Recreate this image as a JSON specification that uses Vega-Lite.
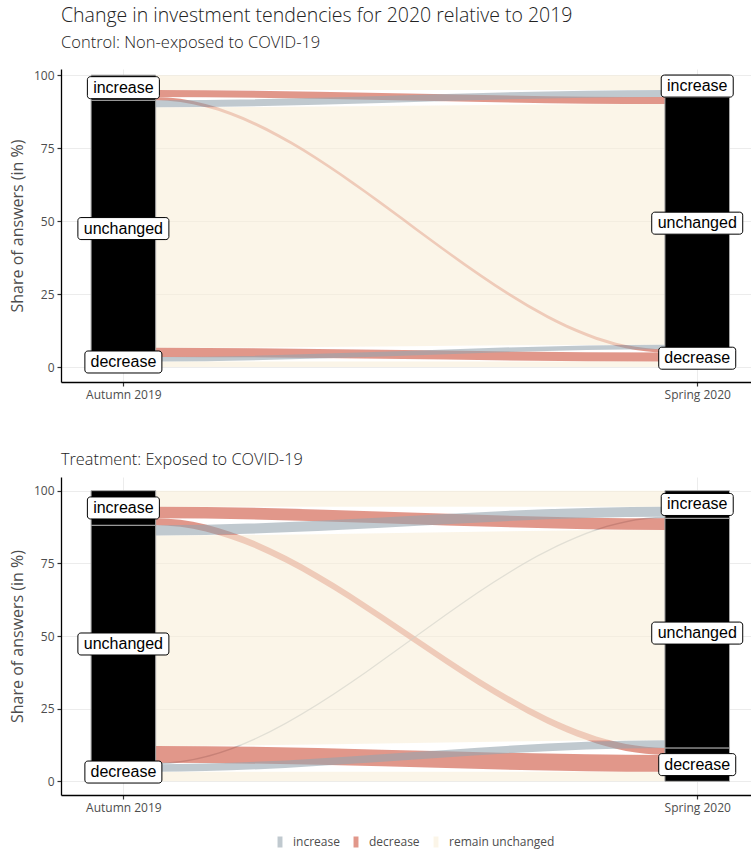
{
  "$schema": "https://vega.github.io/schema/vega-lite/v6.json",
  "padding": {"left": 9, "right": 0, "top": 6, "bottom": 5},
  "datasets": {
    "flows": [
      {"p":"C","f":"A","t":"remain unchanged","g":"m","x":1,"lo":94.9,"hi":100},
      {"p":"C","f":"A","t":"remain unchanged","g":"m","x":1.0555,"lo":94.9,"hi":100},
      {"p":"C","f":"A","t":"remain unchanged","g":"m","x":1.9445,"lo":94.9,"hi":100},
      {"p":"C","f":"A","t":"remain unchanged","g":"m","x":2,"lo":94.9,"hi":100},
      {"p":"C","f":"B","t":"decrease","g":"m","x":1,"lo":92.5,"hi":94.9},
      {"p":"C","f":"B","t":"decrease","g":"m","x":1.0555,"lo":92.5,"hi":94.9},
      {"p":"C","f":"B","t":"decrease","g":"m","x":1.9445,"lo":90.1,"hi":92.5},
      {"p":"C","f":"B","t":"decrease","g":"m","x":2,"lo":90.1,"hi":92.5},
      {"p":"C","f":"C","t":"decrease","g":"u","x":1,"lo":91.4,"hi":92.5},
      {"p":"C","f":"C","t":"decrease","g":"u","x":1.0555,"lo":91.4,"hi":92.5},
      {"p":"C","f":"C","t":"decrease","g":"u","x":1.9445,"lo":5.0,"hi":6.1},
      {"p":"C","f":"C","t":"decrease","g":"u","x":2,"lo":5.0,"hi":6.1},
      {"p":"C","f":"D","t":"increase","g":"m","x":1,"lo":89.0,"hi":91.4},
      {"p":"C","f":"D","t":"increase","g":"m","x":1.0555,"lo":89.0,"hi":91.4},
      {"p":"C","f":"D","t":"increase","g":"m","x":1.9445,"lo":92.5,"hi":94.9},
      {"p":"C","f":"D","t":"increase","g":"m","x":2,"lo":92.5,"hi":94.9},
      {"p":"C","f":"E","t":"remain unchanged","g":"m","x":1,"lo":6.6,"hi":89.0},
      {"p":"C","f":"E","t":"remain unchanged","g":"m","x":1.0555,"lo":6.6,"hi":89.0},
      {"p":"C","f":"E","t":"remain unchanged","g":"m","x":1.9445,"lo":7.7,"hi":90.1},
      {"p":"C","f":"E","t":"remain unchanged","g":"m","x":2,"lo":7.7,"hi":90.1},
      {"p":"C","f":"F","t":"decrease","g":"m","x":1,"lo":3.5,"hi":6.6},
      {"p":"C","f":"F","t":"decrease","g":"m","x":1.0555,"lo":3.5,"hi":6.6},
      {"p":"C","f":"F","t":"decrease","g":"m","x":1.9445,"lo":1.9,"hi":5.0},
      {"p":"C","f":"F","t":"decrease","g":"m","x":2,"lo":1.9,"hi":5.0},
      {"p":"C","f":"H","t":"increase","g":"m","x":1,"lo":1.9,"hi":3.5},
      {"p":"C","f":"H","t":"increase","g":"m","x":1.0555,"lo":1.9,"hi":3.5},
      {"p":"C","f":"H","t":"increase","g":"m","x":1.9445,"lo":6.1,"hi":7.7},
      {"p":"C","f":"H","t":"increase","g":"m","x":2,"lo":6.1,"hi":7.7},
      {"p":"C","f":"I","t":"remain unchanged","g":"m","x":1,"lo":0,"hi":1.9},
      {"p":"C","f":"I","t":"remain unchanged","g":"m","x":1.0555,"lo":0,"hi":1.9},
      {"p":"C","f":"I","t":"remain unchanged","g":"m","x":1.9445,"lo":0,"hi":1.9},
      {"p":"C","f":"I","t":"remain unchanged","g":"m","x":2,"lo":0,"hi":1.9},
      {"p":"T","f":"A","t":"remain unchanged","g":"m","x":1,"lo":94.5,"hi":100},
      {"p":"T","f":"A","t":"remain unchanged","g":"m","x":1.0555,"lo":94.5,"hi":100},
      {"p":"T","f":"A","t":"remain unchanged","g":"m","x":1.9445,"lo":94.5,"hi":100},
      {"p":"T","f":"A","t":"remain unchanged","g":"m","x":2,"lo":94.5,"hi":100},
      {"p":"T","f":"B","t":"decrease","g":"m","x":1,"lo":90.5,"hi":94.5},
      {"p":"T","f":"B","t":"decrease","g":"m","x":1.0555,"lo":90.5,"hi":94.5},
      {"p":"T","f":"B","t":"decrease","g":"m","x":1.9445,"lo":86.5,"hi":90.5},
      {"p":"T","f":"B","t":"decrease","g":"m","x":2,"lo":86.5,"hi":90.5},
      {"p":"T","f":"C","t":"decrease","g":"u","x":1,"lo":88.1,"hi":90.5},
      {"p":"T","f":"C","t":"decrease","g":"u","x":1.0555,"lo":88.1,"hi":90.5},
      {"p":"T","f":"C","t":"decrease","g":"u","x":1.9445,"lo":9.1,"hi":11.5},
      {"p":"T","f":"C","t":"decrease","g":"u","x":2,"lo":9.1,"hi":11.5},
      {"p":"T","f":"D","t":"increase","g":"m","x":1,"lo":84.6,"hi":88.1},
      {"p":"T","f":"D","t":"increase","g":"m","x":1.0555,"lo":84.6,"hi":88.1},
      {"p":"T","f":"D","t":"increase","g":"m","x":1.9445,"lo":91.0,"hi":94.5},
      {"p":"T","f":"D","t":"increase","g":"m","x":2,"lo":91.0,"hi":94.5},
      {"p":"T","f":"E","t":"remain unchanged","g":"m","x":1,"lo":12.2,"hi":84.6},
      {"p":"T","f":"E","t":"remain unchanged","g":"m","x":1.0555,"lo":12.2,"hi":84.6},
      {"p":"T","f":"E","t":"remain unchanged","g":"m","x":1.9445,"lo":14.1,"hi":86.5},
      {"p":"T","f":"E","t":"remain unchanged","g":"m","x":2,"lo":14.1,"hi":86.5},
      {"p":"T","f":"F","t":"decrease","g":"m","x":1,"lo":6.4,"hi":12.2},
      {"p":"T","f":"F","t":"decrease","g":"m","x":1.0555,"lo":6.4,"hi":12.2},
      {"p":"T","f":"F","t":"decrease","g":"m","x":1.9445,"lo":3.3,"hi":9.1},
      {"p":"T","f":"F","t":"decrease","g":"m","x":2,"lo":3.3,"hi":9.1},
      {"p":"T","f":"G","t":"increase","g":"u","x":1,"lo":5.9,"hi":6.4},
      {"p":"T","f":"G","t":"increase","g":"u","x":1.0555,"lo":5.9,"hi":6.4},
      {"p":"T","f":"G","t":"increase","g":"u","x":1.9445,"lo":90.5,"hi":91.0},
      {"p":"T","f":"G","t":"increase","g":"u","x":2,"lo":90.5,"hi":91.0},
      {"p":"T","f":"H","t":"increase","g":"m","x":1,"lo":3.3,"hi":5.9},
      {"p":"T","f":"H","t":"increase","g":"m","x":1.0555,"lo":3.3,"hi":5.9},
      {"p":"T","f":"H","t":"increase","g":"m","x":1.9445,"lo":11.5,"hi":14.1},
      {"p":"T","f":"H","t":"increase","g":"m","x":2,"lo":11.5,"hi":14.1},
      {"p":"T","f":"I","t":"remain unchanged","g":"m","x":1,"lo":0,"hi":3.3},
      {"p":"T","f":"I","t":"remain unchanged","g":"m","x":1.0555,"lo":0,"hi":3.3},
      {"p":"T","f":"I","t":"remain unchanged","g":"m","x":1.9445,"lo":0,"hi":3.3},
      {"p":"T","f":"I","t":"remain unchanged","g":"m","x":2,"lo":0,"hi":3.3}
    ],
    "strata": [
      {"p":"C","x":1,"s":"decrease","lo":0,"hi":3.5},
      {"p":"C","x":1,"s":"unchanged","lo":3.5,"hi":91.4},
      {"p":"C","x":1,"s":"increase","lo":91.4,"hi":100},
      {"p":"C","x":2,"s":"decrease","lo":0,"hi":6.1},
      {"p":"C","x":2,"s":"unchanged","lo":6.1,"hi":92.5},
      {"p":"C","x":2,"s":"increase","lo":92.5,"hi":100},
      {"p":"T","x":1,"s":"decrease","lo":0,"hi":6.4},
      {"p":"T","x":1,"s":"unchanged","lo":6.4,"hi":88.1},
      {"p":"T","x":1,"s":"increase","lo":88.1,"hi":100},
      {"p":"T","x":2,"s":"decrease","lo":0,"hi":11.5},
      {"p":"T","x":2,"s":"unchanged","lo":11.5,"hi":90.5},
      {"p":"T","x":2,"s":"increase","lo":90.5,"hi":100}
    ]
  },
  "config": {
    "view": {"stroke": null},
    "font": "Open Sans",
    "axis": {
      "domainColor": "#000000", "domainWidth": 1.3,
      "tickColor": "#333333", "tickWidth": 1.2, "tickSize": 4,
      "labelColor": "#4D4D4D", "labelFontSize": 12, "labelFont": "Open Sans", "labelPadding": 3,
      "titleFont": "Open Sans", "titleFontWeight": "normal", "titleColor": "#4D4D4D", "titleFontSize": 16, "titlePadding": 8,
      "gridColor": "#ECECEC", "gridWidth": 1
    },
    "title": {"anchor": "start", "frame": "group", "font": "Open Sans", "fontWeight": 300, "color": "#222222", "subtitleFont": "Open Sans", "subtitleFontWeight": 300, "subtitleColor": "#222222", "subtitleFontSize": 16.5, "subtitlePadding": 8},
    "legend": {
      "orient": "none", "legendX": 213, "legendY": 767, "direction": "horizontal", "title": null,
      "symbolType": "M-0.45,-1H0.45V1H-0.45Z", "symbolSize": 121, "symbolOpacity": 0.6, "symbolStrokeWidth": 0,
      "labelFontSize": 12, "labelColor": "#4D4D4D", "labelFont": "Open Sans", "columnPadding": 10, "labelOffset": 7
    }
  },
  "spacing": 51,
  "vconcat": [
    {
      "width": 690, "height": 313,
      "title": {"text": "Change in investment tendencies for 2020 relative to 2019", "subtitle": "Control: Non-exposed to COVID-19", "fontSize": 19.5, "offset": 17},
      "layer": [
        {
          "data": {"name": "flows"},
          "transform": [{"filter": "datum.p == 'C' && datum.g == 'u'"}],
          "mark": {"type": "area", "interpolate": "monotone", "opacity": 0.6},
          "encoding": {
            "x": {"field": "x", "type": "quantitative", "scale": {"domain": [0.9, 2.085], "nice": false, "zero": false}, "axis": {"values": [1, 2], "labelExpr": "datum.value == 1 ? 'Autumn 2019' : 'Spring 2020'", "title": null, "grid": true}},
            "y": {"field": "lo", "type": "quantitative", "scale": {"domain": [-5.1, 102.1], "nice": false, "zero": false}, "axis": {"values": [0, 25, 50, 75, 100], "title": "Share of answers (in %)"}},
            "y2": {"field": "hi"},
            "color": {"field": "t", "type": "nominal", "scale": {"domain": ["increase", "decrease", "remain unchanged"], "range": ["#96A5AF", "#CD523C", "#F8EFD9"]}},
            "detail": {"field": "f"}
          }
        },
        {
          "data": {"name": "flows"},
          "transform": [{"filter": "datum.p == 'C' && datum.t == 'remain unchanged'"}],
          "mark": {"type": "area", "interpolate": "monotone", "opacity": 0.6},
          "encoding": {
            "x": {"field": "x", "type": "quantitative"},
            "y": {"field": "lo", "type": "quantitative"},
            "y2": {"field": "hi"},
            "color": {"field": "t", "type": "nominal"},
            "detail": {"field": "f"}
          }
        },
        {
          "data": {"name": "flows"},
          "transform": [{"filter": "datum.p == 'C' && datum.g == 'm' && datum.t != 'remain unchanged'"}],
          "mark": {"type": "area", "interpolate": "monotone", "opacity": 0.6},
          "encoding": {
            "x": {"field": "x", "type": "quantitative"},
            "y": {"field": "lo", "type": "quantitative"},
            "y2": {"field": "hi"},
            "color": {"field": "t", "type": "nominal"},
            "detail": {"field": "f"}
          }
        },
        {
          "data": {"name": "strata"},
          "transform": [{"filter": "datum.p == 'C'"}],
          "mark": {"type": "bar", "width": 64.6, "color": "#000000", "stroke": "#A8A8A8", "strokeWidth": 1},
          "encoding": {
            "x": {"field": "x", "type": "quantitative"},
            "y": {"field": "lo", "type": "quantitative"},
            "y2": {"field": "hi"}
          }
        },
        {
          "data": {"name": "strata"},
          "transform": [{"filter": "datum.p == 'C' && datum.s == 'unchanged'"}, {"calculate": "(datum.lo + datum.hi) / 2", "as": "mid"}],
          "mark": {"type": "rect", "width": 91, "height": 22, "fill": "#FFFFFF", "stroke": "#000000", "strokeWidth": 1, "cornerRadius": 3},
          "encoding": {
            "x": {"field": "x", "type": "quantitative"},
            "y": {"field": "mid", "type": "quantitative"}
          }
        },
        {
          "data": {"name": "strata"},
          "transform": [{"filter": "datum.p == 'C' && datum.s == 'increase'"}, {"calculate": "(datum.lo + datum.hi) / 2", "as": "mid"}],
          "mark": {"type": "rect", "width": 72, "height": 22, "fill": "#FFFFFF", "stroke": "#000000", "strokeWidth": 1, "cornerRadius": 3},
          "encoding": {
            "x": {"field": "x", "type": "quantitative"},
            "y": {"field": "mid", "type": "quantitative"}
          }
        },
        {
          "data": {"name": "strata"},
          "transform": [{"filter": "datum.p == 'C' && datum.s == 'decrease'"}, {"calculate": "(datum.lo + datum.hi) / 2", "as": "mid"}],
          "mark": {"type": "rect", "width": 77, "height": 22, "fill": "#FFFFFF", "stroke": "#000000", "strokeWidth": 1, "cornerRadius": 3},
          "encoding": {
            "x": {"field": "x", "type": "quantitative"},
            "y": {"field": "mid", "type": "quantitative"}
          }
        },
        {
          "data": {"name": "strata"},
          "transform": [{"filter": "datum.p == 'C'"}, {"calculate": "(datum.lo + datum.hi) / 2", "as": "mid"}],
          "mark": {"type": "text", "font": "Liberation Sans", "fontSize": 16, "color": "#000000", "baseline": "middle", "align": "center"},
          "encoding": {
            "x": {"field": "x", "type": "quantitative"},
            "y": {"field": "mid", "type": "quantitative"},
            "text": {"field": "s"}
          }
        }
      ]
    },
    {
      "width": 690, "height": 318,
      "title": {"text": "Treatment: Exposed to COVID-19", "fontSize": 16.3, "offset": 9},
      "layer": [
        {
          "data": {"name": "flows"},
          "transform": [{"filter": "datum.p == 'T' && datum.g == 'u'"}],
          "mark": {"type": "area", "interpolate": "monotone", "opacity": 0.6},
          "encoding": {
            "x": {"field": "x", "type": "quantitative", "scale": {"domain": [0.9, 2.085], "nice": false, "zero": false}, "axis": {"values": [1, 2], "labelExpr": "datum.value == 1 ? 'Autumn 2019' : 'Spring 2020'", "title": null, "grid": true}},
            "y": {"field": "lo", "type": "quantitative", "scale": {"domain": [-4.7, 104.7], "nice": false, "zero": false}, "axis": {"values": [0, 25, 50, 75, 100], "title": "Share of answers (in %)"}},
            "y2": {"field": "hi"},
            "color": {"field": "t", "type": "nominal", "scale": {"domain": ["increase", "decrease", "remain unchanged"], "range": ["#96A5AF", "#CD523C", "#F8EFD9"]}},
            "detail": {"field": "f"}
          }
        },
        {
          "data": {"name": "flows"},
          "transform": [{"filter": "datum.p == 'T' && datum.t == 'remain unchanged'"}],
          "mark": {"type": "area", "interpolate": "monotone", "opacity": 0.6},
          "encoding": {
            "x": {"field": "x", "type": "quantitative"},
            "y": {"field": "lo", "type": "quantitative"},
            "y2": {"field": "hi"},
            "color": {"field": "t", "type": "nominal"},
            "detail": {"field": "f"}
          }
        },
        {
          "data": {"name": "flows"},
          "transform": [{"filter": "datum.p == 'T' && datum.g == 'm' && datum.t != 'remain unchanged'"}],
          "mark": {"type": "area", "interpolate": "monotone", "opacity": 0.6},
          "encoding": {
            "x": {"field": "x", "type": "quantitative"},
            "y": {"field": "lo", "type": "quantitative"},
            "y2": {"field": "hi"},
            "color": {"field": "t", "type": "nominal"},
            "detail": {"field": "f"}
          }
        },
        {
          "data": {"name": "strata"},
          "transform": [{"filter": "datum.p == 'T'"}],
          "mark": {"type": "bar", "width": 64.6, "color": "#000000", "stroke": "#A8A8A8", "strokeWidth": 1},
          "encoding": {
            "x": {"field": "x", "type": "quantitative"},
            "y": {"field": "lo", "type": "quantitative"},
            "y2": {"field": "hi"}
          }
        },
        {
          "data": {"name": "strata"},
          "transform": [{"filter": "datum.p == 'T' && datum.s == 'unchanged'"}, {"calculate": "(datum.lo + datum.hi) / 2", "as": "mid"}],
          "mark": {"type": "rect", "width": 91, "height": 22, "fill": "#FFFFFF", "stroke": "#000000", "strokeWidth": 1, "cornerRadius": 3},
          "encoding": {
            "x": {"field": "x", "type": "quantitative"},
            "y": {"field": "mid", "type": "quantitative"}
          }
        },
        {
          "data": {"name": "strata"},
          "transform": [{"filter": "datum.p == 'T' && datum.s == 'increase'"}, {"calculate": "(datum.lo + datum.hi) / 2", "as": "mid"}],
          "mark": {"type": "rect", "width": 72, "height": 22, "fill": "#FFFFFF", "stroke": "#000000", "strokeWidth": 1, "cornerRadius": 3},
          "encoding": {
            "x": {"field": "x", "type": "quantitative"},
            "y": {"field": "mid", "type": "quantitative"}
          }
        },
        {
          "data": {"name": "strata"},
          "transform": [{"filter": "datum.p == 'T' && datum.s == 'decrease'"}, {"calculate": "(datum.lo + datum.hi) / 2", "as": "mid"}],
          "mark": {"type": "rect", "width": 77, "height": 22, "fill": "#FFFFFF", "stroke": "#000000", "strokeWidth": 1, "cornerRadius": 3},
          "encoding": {
            "x": {"field": "x", "type": "quantitative"},
            "y": {"field": "mid", "type": "quantitative"}
          }
        },
        {
          "data": {"name": "strata"},
          "transform": [{"filter": "datum.p == 'T'"}, {"calculate": "(datum.lo + datum.hi) / 2", "as": "mid"}],
          "mark": {"type": "text", "font": "Liberation Sans", "fontSize": 16, "color": "#000000", "baseline": "middle", "align": "center"},
          "encoding": {
            "x": {"field": "x", "type": "quantitative"},
            "y": {"field": "mid", "type": "quantitative"},
            "text": {"field": "s"}
          }
        }
      ]
    }
  ]
}
